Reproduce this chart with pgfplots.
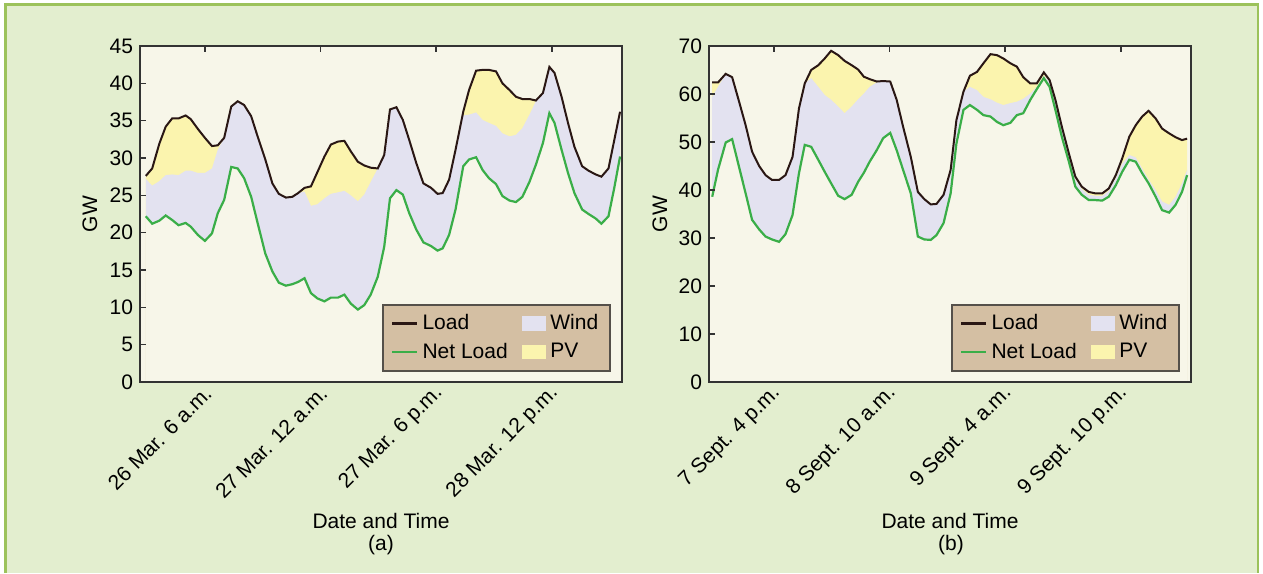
\documentclass[border=0pt]{standalone}
\usepackage{fontspec}
\setmainfont{Liberation Sans}
\usepackage{pgfplots}
\pgfplotsset{compat=1.18}
\usepackage{pgfplotstable}

\definecolor{bgout}{HTML}{E3EECF}
\definecolor{framec}{HTML}{9CC25B}
\definecolor{plotbg}{HTML}{F7F6E9}
\definecolor{windc}{HTML}{E3E2F0}
\definecolor{pvc}{HTML}{FBF4AE}
\definecolor{loadc}{HTML}{2A1714}
\definecolor{netc}{HTML}{3AAE48}
\definecolor{legbg}{HTML}{D4BFA3}
\definecolor{legdraw}{HTML}{55504A}
\definecolor{axc}{HTML}{333333}

% hours from the first tick; load, load minus PV (= net + wind), net load, in GW
\pgfplotstableread{
h     load  mid   net
-9.2  27.6  27.2  22.2
-8.2  28.6  26.3  21.2
-7.1  31.9  26.9  21.6
-6.1  34.2  27.7  22.3
-5.1  35.3  27.8  21.7
-4.1  35.3  27.7  21.0
-3.0  35.7  28.3  21.3
-2.2  35.2  28.3  20.8
-1.1  33.9  28.0  19.7
0.0   32.7  28.0  18.9
1.1   31.6  28.6  19.9
2.0   31.7  31.1  22.6
3.0   32.7  32.7  24.4
4.1   36.9  36.9  28.8
5.1   37.6  37.6  28.6
6.1   37.1  37.1  27.3
7.2   35.6  35.6  24.8
8.2   32.9  32.9  21.3
9.4   29.8  29.8  17.2
10.5  26.6  26.6  14.8
11.5  25.2  25.2  13.3
12.6  24.7  24.7  12.9
13.6  24.8  24.8  13.1
14.5  25.3  25.3  13.4
15.5  26.0  25.5  13.9
16.5  26.2  23.6  11.9
17.5  28.1  23.8  11.2
18.6  30.2  24.6  10.8
19.6  31.8  25.2  11.3
20.7  32.2  25.4  11.3
21.7  32.3  25.6  11.7
22.7  30.9  25.0  10.5
23.8  29.5  24.2  9.7
24.8  29.0  25.1  10.3
25.8  28.7  26.8  11.7
26.9  28.6  28.6  14.1
27.9  30.4  30.4  18.1
28.8  36.5  36.5  24.6
29.8  36.8  36.8  25.7
30.8  35.1  35.1  25.1
31.8  32.4  32.4  22.6
32.9  29.3  29.3  20.4
34.0  26.6  26.6  18.7
35.2  26.0  26.0  18.2
36.2  25.2  25.2  17.6
37.0  25.3  25.3  17.9
38.0  27.1  27.1  19.7
39.0  31.1  31.1  23.1
40.2  36.2  35.7  28.9
41.1  39.1  35.8  29.8
42.2  41.7  36.1  30.1
43.2  41.8  35.1  28.4
44.2  41.8  34.7  27.3
45.3  41.6  34.3  26.5
46.3  40.0  33.3  24.9
47.4  39.1  32.9  24.3
48.4  38.2  33.1  24.1
49.4  37.9  34.0  24.8
50.5  37.9  35.8  26.8
51.5  37.7  37.6  29.1
52.6  38.7  38.7  32.0
53.6  42.2  42.2  36.0
54.4  41.4  41.4  34.7
55.5  38.2  38.2  31.1
56.5  34.7  34.7  28.0
57.5  31.5  31.5  25.3
58.7  28.9  28.9  23.1
59.7  28.3  28.3  22.5
60.8  27.8  27.8  21.9
61.7  27.5  27.5  21.2
62.8  28.6  28.6  22.2
63.7  32.4  32.4  26.0
64.6  36.2  36.2  30.2
}\marchdata

\pgfplotstableread{
h     load  mid   net
-9.6  62.4  59.4  38.6
-8.7  62.4  61.5  44.2
-7.5  64.2  64.2  49.9
-6.5  63.5  63.5  50.6
-5.5  58.8  58.8  45.2
-4.4  53.5  53.5  39.3
-3.4  48.0  48.0  33.8
-2.3  45.0  45.0  31.8
-1.3  43.1  43.1  30.3
-0.3  42.1  42.1  29.7
0.8   42.1  42.1  29.2
1.8   43.1  43.1  30.8
2.9   46.9  46.9  34.8
3.9   57.0  57.0  43.5
4.8   62.2  62.2  49.4
5.8   65.0  63.3  49.0
6.9   66.0  61.5  46.3
7.9   67.4  59.8  43.8
8.9   69.0  58.8  41.4
10.0  68.1  57.4  38.8
11.0  66.9  56.0  38.1
12.1  66.0  57.4  39.0
13.1  65.1  58.9  41.7
14.0  63.6  60.1  43.6
14.9  63.1  61.5  45.9
16.0  62.6  62.4  48.3
17.0  62.7  62.7  50.8
18.1  62.6  62.6  51.9
19.1  58.8  58.8  48.3
20.1  53.2  53.2  44.2
21.3  46.9  46.9  39.3
22.4  39.6  39.6  30.3
23.4  38.1  38.1  29.7
24.4  37.0  37.0  29.6
25.3  37.1  37.1  30.6
26.4  39.0  39.0  33.1
27.5  44.2  44.2  39.3
28.4  54.6  54.6  49.7
29.5  60.5  60.5  56.7
30.5  63.8  61.5  57.7
31.6  64.6  60.8  56.7
32.6  66.4  59.4  55.6
33.7  68.3  58.9  55.3
34.7  68.1  58.2  54.2
35.7  67.4  57.7  53.5
36.8  66.4  58.1  54.0
37.8  65.7  58.4  55.6
38.8  63.5  59.0  56.0
39.9  62.2  60.1  58.8
40.9  62.2  61.5  61.0
42.0  64.5  63.8  63.3
42.9  62.9  62.6  61.5
43.8  58.8  58.4  56.7
44.8  53.2  52.8  51.1
45.9  47.6  47.2  45.9
46.9  42.8  42.3  40.7
47.9  40.7  40.2  39.0
49.0  39.6  39.0  37.9
50.0  39.3  38.8  37.9
51.1  39.3  38.8  37.8
52.1  40.3  39.8  38.6
53.2  43.1  42.5  41.0
54.2  46.6  45.5  43.8
55.3  51.1  47.3  46.3
56.3  53.5  46.8  45.9
57.3  55.3  44.5  43.5
58.3  56.5  42.2  41.4
59.4  54.9  40.0  38.6
60.4  52.8  37.6  35.8
61.5  51.8  36.9  35.3
62.5  51.0  38.6  36.9
63.5  50.4  41.4  39.6
64.3  50.7  44.2  43.1
}\septdata

\newcommand{\fs}{\fontsize{10.5}{12.5}\selectfont}

\pgfplotsset{
  panel/.style={
    scale only axis, width=241pt, height=168pt,
    xmin=-10.1, xmax=64.9, ymin=0,
    axis background/.style={fill=plotbg},
    axis line style={axc, line width=0.8pt},
    axis on top,
    xtick={0,18,36,54},
    xtick pos=right, xticklabel pos=left,
    ytick pos=left,
    tick align=inside, major tick length=3pt,
    tick style={axc, line width=0.8pt},
    xticklabel style={xshift=4pt, yshift=-1.5pt, rotate=45, anchor=east, font=\fs},
    yticklabel style={font=\fs},
    /pgf/number format/assume math mode=true,
    legend columns=2,
    legend cell align=left,
    legend style={at={(1,0)}, anchor=south east, xshift=-5.5pt, yshift=5pt,
      fill=legbg, draw=legdraw, line width=0.8pt, font=\fs,
      inner xsep=4pt, inner ysep=3pt, row sep=1pt,
      /tikz/every even column/.append style={column sep=5pt}},
  },
  lineleg/.style={legend image code/.code={\draw[##1] (0pt,0pt) -- (12.5pt,0pt);}},
  arealeg/.style={legend image code/.code={\fill[##1] (0pt,-3.3pt) rectangle (11.5pt,3.3pt);}},
}

\begin{document}
\begin{tikzpicture}
\fill[white] (0,0) rectangle (631.5pt,286.5pt);
\fill[bgout] (2.75pt,0) rectangle (629pt,284.25pt);
\draw[framec, line width=1.3pt] (2.75pt,0) -- (2.75pt,284.25pt) -- (629pt,284.25pt) -- (629pt,0);

\begin{axis}[panel, at={(70pt,95.5pt)}, anchor=south west,
  ymax=45, ytick={0,5,...,45},
  xticklabels={26 Mar. 6 a.m., 27 Mar. 12 a.m., 27 Mar. 6 p.m., 28 Mar. 12 p.m.}]
\addplot[fill=pvc, draw=none, forget plot] table[x=h, y=load] {\marchdata} \closedcycle;
\addplot[fill=windc, draw=none, forget plot] table[x=h, y=mid] {\marchdata} \closedcycle;
\addplot[fill=plotbg, draw=none, forget plot] table[x=h, y=net] {\marchdata} \closedcycle;
\addplot[netc, line width=1.1pt, forget plot] table[x=h, y=net] {\marchdata};
\addplot[loadc, line width=1.0pt, forget plot] table[x=h, y=load] {\marchdata};
\addlegendimage{lineleg, loadc, line width=1.4pt}
\addlegendentry{Load}
\addlegendimage{arealeg, windc}
\addlegendentry{Wind}
\addlegendimage{lineleg, netc, line width=1.4pt}
\addlegendentry{Net Load}
\addlegendimage{arealeg, pvc}
\addlegendentry{PV}
\end{axis}

\begin{axis}[panel, at={(354.5pt,95.5pt)}, anchor=south west,
  ymax=70, ytick={0,10,...,70},
  xticklabels={7 Sept. 4 p.m., 8 Sept. 10 a.m., 9 Sept. 4 a.m., 9 Sept. 10 p.m.}]
\addplot[fill=pvc, draw=none, forget plot] table[x=h, y=load] {\septdata} \closedcycle;
\addplot[fill=windc, draw=none, forget plot] table[x=h, y=mid] {\septdata} \closedcycle;
\addplot[fill=plotbg, draw=none, forget plot] table[x=h, y=net] {\septdata} \closedcycle;
\addplot[netc, line width=1.1pt, forget plot] table[x=h, y=net] {\septdata};
\addplot[loadc, line width=1.0pt, forget plot] table[x=h, y=load] {\septdata};
\addlegendimage{lineleg, loadc, line width=1.4pt}
\addlegendentry{Load}
\addlegendimage{arealeg, windc}
\addlegendentry{Wind}
\addlegendimage{lineleg, netc, line width=1.4pt}
\addlegendentry{Net Load}
\addlegendimage{arealeg, pvc}
\addlegendentry{PV}
\end{axis}

\node[rotate=90, font=\fs] at (45pt,179.5pt) {GW};
\node[rotate=90, font=\fs] at (330pt,179.5pt) {GW};
\node[font=\fs] at (190.5pt,26pt) {Date and Time};
\node[font=\fs] at (190.5pt,14pt) {(a)};
\node[font=\fs] at (475pt,26pt) {Date and Time};
\node[font=\fs] at (475.5pt,14pt) {(b)};
\pgfresetboundingbox
\useasboundingbox (0,0) rectangle (631.5pt,286.5pt);
\end{tikzpicture}
\end{document}
